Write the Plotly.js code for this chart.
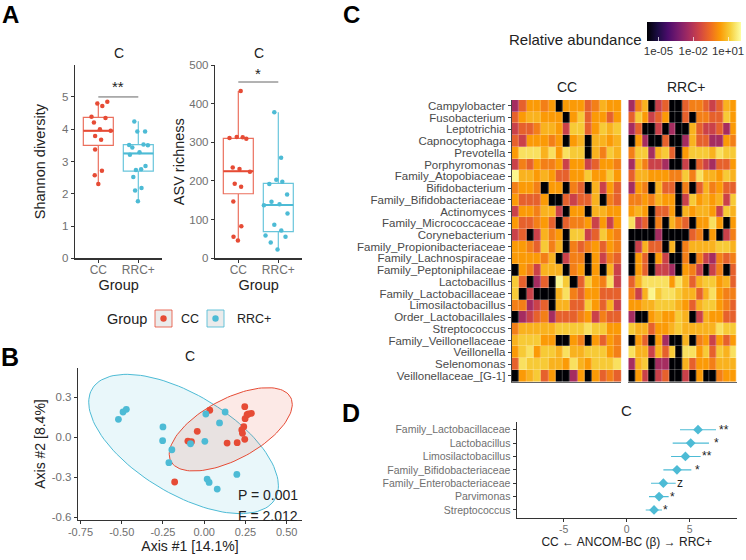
<!DOCTYPE html>
<html>
<head>
<meta charset="utf-8">
<script src="https://cdn.plot.ly/plotly-3.0.1.min.js"></script>
<style>html,body{margin:0;padding:0;background:#fff}</style>
</head>
<body>
<div id="chart" style="width:746px;height:560px"></div>
<script>
// ---------- Panel A data ----------
const groups = ['CC', 'RRC+'];
const groupPositions = [1, 2];
const shannonCCx = [0.975,1.10,1.225,0.83,1.18,0.89,1.04,1.31,0.92,1.07,0.92,1.09,0.91,1.0];
const shannonCCy = [4.80,4.72,4.85,4.39,4.35,4.21,4.0,3.95,3.79,3.67,3.37,2.71,2.57,2.30];
const shannonRRCx = [1.9,1.975,2.17,1.77,1.85,2.13,2.24,1.79,2.03,2.18,1.94,2.07,1.875,2.08,1.92,1.99];
const shannonRRCy = [4.24,3.93,3.93,3.51,3.43,3.53,3.50,3.21,3.29,2.86,2.74,2.76,2.52,2.18,2.10,1.77];
const shannonCCBox = [2.30,3.50,3.95,4.37,4.85];
const shannonRRCBox = [1.78,2.70,3.25,3.52,4.25];
const asvCCx = [1.06,0.78,0.96,1.11,1.2,0.86,1.03,1.29,0.91,1.07,0.875,1.075,0.88,0.99];
const asvCCy = [433,311,314,313,309,235,231,224,193,185,147,83,56,46];
const asvRRCx = [1.9,2.07,1.775,1.95,2.1,2.22,1.83,2.03,1.64,2.23,1.9,2.075,1.68,2.18,1.81,1.98];
const asvRRCy = [378,260,192,203,198,165,146,140,137,116,87,72,59,56,41,23];
const asvCCBox = [46,167,225,310,433];
const asvRRCBox = [23,69,138,194,378];

// ---------- Panel B data ----------
const pcoaCCx = [-0.179,-0.099,-0.077,-0.042,0.034,0.139,0.2,0.246,0.228,0.232,0.24,0.248,0.26,0.268,0.286,0.246];
const pcoaCCy = [-0.335,-0.028,-0.033,0.045,0.203,-0.043,-0.04,-0.015,0.055,0.03,0.08,0.14,0.17,0.175,0.18,0.23];
const pcoaRRCx = [-0.52,-0.492,-0.472,-0.25,-0.252,-0.196,-0.214,-0.083,0.004,0.01,0.093,0.127,0.198,0.018,0.03,0.079];
const pcoaRRCy = [0.135,0.19,0.21,0.078,-0.025,-0.093,-0.19,-0.048,-0.03,0.175,0.108,0.19,-0.278,-0.313,-0.338,-0.388];
const ellipseCC = {cx:0.161, cy:0.06, a:0.373, b:0.3125, rho:0.6};
const ellipseRRC = {cx:-0.125, cy:-0.05, a:0.575, b:0.5225, rho:-0.6};

// ---------- Panel C data ----------
const taxa = ['Campylobacter','Fusobacterium','Leptotrichia','Capnocytophaga','Prevotella','Porphyromonas','Family_Atopobiaceae','Bifidobacterium','Family_Bifidobacteriaceae','Actinomyces','Family_Micrococcaceae','Corynebacterium','Family_Propionibacteriaceae','Family_Lachnospiraceae','Family_Peptoniphilaceae','Lactobacillus','Family_Lactobacillaceae','Limosilactobacillus','Order_Lactobacillales','Streptococcus','Family_Veillonellaceae','Veillonella','Selenomonas','Veillonellaceae_[G-1]'];
// log10 relative abundance for each colour step
const levelLog10 = [-6,-2.4,-1.6,-0.8,-0.2,0.3,0.7,1.1,1.5,1.9];
const ccLevels = [
[1,3,5,5,4,5,0,5,5,5,3,4,6,5,5],
[3,5,6,6,5,5,5,0,5,7,3,5,5,3,5],
[2,3,3,4,6,6,5,2,7,7,3,5,7,6,7],
[3,2,5,5,5,4,5,0,5,6,0,6,6,5,6],
[5,8,8,8,6,8,5,8,7,7,0,6,4,7,6],
[2,4,3,5,4,4,5,2,5,5,2,3,5,5,4],
[9,6,6,5,6,5,3,3,5,5,7,5,5,7,5],
[4,5,5,4,0,5,5,0,4,3,0,6,2,5,3],
[5,3,3,3,5,0,0,3,2,3,3,6,0,4,3],
[2,5,5,4,6,6,2,0,5,5,0,6,6,5,5],
[5,3,3,4,5,3,0,3,4,4,5,2,5,2,5],
[2,3,0,2,6,4,5,0,7,7,2,3,7,5,4],
[5,5,4,3,7,4,6,0,4,3,4,5,3,5,4],
[5,5,5,5,4,6,0,2,4,4,0,5,2,4,3],
[0,5,4,2,6,6,6,0,4,5,0,5,0,6,2],
[7,3,0,1,3,0,9,7,0,3,7,5,4,8,2],
[7,0,2,0,0,0,6,8,4,3,5,5,3,3,3],
[4,4,1,2,3,0,6,6,3,3,7,5,3,6,2],
[0,1,2,3,4,1,3,3,3,4,5,2,4,3,3],
[4,6,6,6,6,6,7,7,7,7,8,7,7,5,5],
[6,7,7,7,5,5,0,0,5,4,0,5,3,5,4],
[5,7,8,5,7,7,6,8,6,6,7,7,7,5,4],
[3,8,7,7,7,6,6,5,8,6,5,7,7,7,8],
[0,5,6,7,3,5,0,0,1,5,0,5,3,4,3]
];
const rrcLevels = [
[1,4,6,0,2,3,0,0,3,4,4,3,2,3,6,5],
[3,7,5,2,3,5,0,0,3,0,4,4,3,3,7,5],
[1,3,0,0,2,0,1,0,0,6,3,2,2,3,1,5],
[0,5,1,0,0,3,0,0,1,6,3,3,1,1,5,4],
[4,7,7,1,6,7,3,0,5,7,7,7,6,8,7,7],
[1,6,4,2,2,1,0,0,2,0,3,2,1,3,3,5],
[3,6,6,5,5,5,4,4,7,4,8,6,6,5,7,6],
[1,5,4,0,6,3,3,0,4,0,3,6,4,5,3,3],
[4,4,5,4,6,5,5,0,2,7,5,6,5,6,2,7],
[5,6,5,0,3,3,5,0,6,5,6,6,5,2,7,6],
[8,2,3,0,4,0,6,4,3,0,5,5,8,5,0,5],
[0,0,0,0,1,0,0,0,0,3,4,0,5,0,2,4],
[0,2,6,3,3,0,6,0,4,6,6,6,6,7,7,6],
[0,5,3,0,5,2,0,0,4,0,4,2,1,4,3,4],
[0,5,3,0,2,2,1,0,5,4,2,0,2,4,0,3],
[3,6,8,8,8,8,5,8,6,3,6,7,7,5,6,3],
[4,2,6,9,7,8,8,7,6,6,3,6,8,5,4,4],
[5,5,6,6,7,7,7,6,5,3,6,7,7,5,4,3],
[1,0,0,5,6,5,5,7,6,0,2,6,5,5,3,3],
[7,6,6,3,5,5,6,7,6,6,6,6,6,8,7,7],
[0,5,3,0,5,1,0,0,6,0,4,5,2,5,3,5],
[8,6,6,2,6,3,7,0,8,8,5,7,3,7,6,8],
[1,6,7,0,1,1,0,0,6,3,5,5,4,6,6,6],
[0,5,2,0,2,3,0,0,2,0,5,0,0,4,5,5]
];
const abundanceTickVals = [-5,-2,1];
const abundanceTickText = ['1e-05','1e-02','1e+01'];

// ---------- Panel D data ----------
const ancomTaxa = ['Family_Lactobacillaceae','Lactobacillus','Limosilactobacillus','Family_Bifidobacteriaceae','Family_Enterobacteriaceae','Parvimonas','Streptococcus'];
const ancomBeta = [5.66,5.08,4.66,3.99,2.91,2.57,2.17];
const ancomLow = [4.23,3.65,3.52,2.91,1.93,1.77,1.51];
const ancomHigh = [7.09,6.53,5.87,5.13,3.89,3.33,2.80];
const ancomMarks = ['**','*','**','*','z','*','*'];
const ancomMarkX = [7.7,7.1,6.4,5.6,4.2,3.6,3.05];

// ---------- Styling ----------
const RED = '#E64B35', BLUE = '#4DBBD5';
const REDL = 'rgba(230,75,53,0.8)', BLUEL = 'rgba(77,187,213,0.85)';
const FONT = '"Liberation Sans", Arial, sans-serif';
const TICK = '#6f6f6f', AXIS = '#333333', INK = '#222222';
const W = 746, H = 560;
const xd = (a, b) => [a / W, b / W];
const yd = (top, bottom) => [1 - bottom / H, 1 - top / H];
const px = x => x / W;
const py = y => 1 - y / H;

const inferno = [[0,'#000004'],[1/9,'#1B0C42'],[2/9,'#4B0C6B'],[3/9,'#781C6D'],[4/9,'#A52C60'],[5/9,'#CF4446'],[6/9,'#ED6925'],[7/9,'#FB9A06'],[8/9,'#F7D03C'],[1,'#FCFFA4']];

function ellipseTrace(e, line, fill, xa, ya) {
  const xs = [], ys = [];
  for (let i = 0; i <= 120; i++) {
    const t = 2 * Math.PI * i / 120;
    xs.push(e.cx + e.a * Math.cos(t));
    ys.push(e.cy + e.b * (e.rho * Math.cos(t) + Math.sqrt(1 - e.rho * e.rho) * Math.sin(t)));
  }
  return {type:'scatter', mode:'lines', x:xs, y:ys, fill:'toself', fillcolor:fill,
    line:{color:line, width:1}, hoverinfo:'skip', xaxis:xa, yaxis:ya};
}
function boxTrace(pos, s, line, xa, ya) {
  return {type:'box', x:[pos], lowerfence:[s[0]], q1:[s[1]], median:[s[2]], q3:[s[3]], upperfence:[s[4]],
    width:0.75, whiskerwidth:0, boxpoints:false, fillcolor:'rgba(255,255,255,0)',
    line:{color:line, width:1.2}, xaxis:xa, yaxis:ya};
}
function medianTrace(pos, s, col, xa, ya) {
  return {type:'scatter', mode:'lines', x:[pos-0.375,pos+0.375], y:[s[2],s[2]],
    line:{color:col, width:2}, xaxis:xa, yaxis:ya};
}
function pts(x, y, col, size, xa, ya) {
  return {type:'scatter', mode:'markers', x:x, y:y, marker:{color:col, size:size}, xaxis:xa, yaxis:ya};
}
function sigLine(level, xa, ya) {
  return {type:'scatter', mode:'lines', x:groupPositions, y:[level,level], line:{color:'#555', width:0.9}, xaxis:xa, yaxis:ya};
}
function levelsToLog(m) { return m.map(r => r.map(v => levelLog10[v])); }

const data = [
  boxTrace(1, shannonCCBox, REDL, 'x', 'y'),
  boxTrace(2, shannonRRCBox, BLUEL, 'x', 'y'),
  medianTrace(1, shannonCCBox, RED, 'x', 'y'),
  medianTrace(2, shannonRRCBox, BLUE, 'x', 'y'),
  pts(shannonCCx, shannonCCy, RED, 4.5, 'x', 'y'),
  pts(shannonRRCx, shannonRRCy, BLUE, 4.5, 'x', 'y'),
  sigLine(5.0, 'x', 'y'),
  boxTrace(1, asvCCBox, REDL, 'x2', 'y2'),
  boxTrace(2, asvRRCBox, BLUEL, 'x2', 'y2'),
  medianTrace(1, asvCCBox, RED, 'x2', 'y2'),
  medianTrace(2, asvRRCBox, BLUE, 'x2', 'y2'),
  pts(asvCCx, asvCCy, RED, 4.5, 'x2', 'y2'),
  pts(asvRRCx, asvRRCy, BLUE, 4.5, 'x2', 'y2'),
  sigLine(456, 'x2', 'y2'),
  ellipseTrace(ellipseRRC, BLUE, 'rgba(77,187,213,0.12)', 'x3', 'y3'),
  ellipseTrace(ellipseCC, RED, 'rgba(230,75,53,0.12)', 'x3', 'y3'),
  pts(pcoaCCx, pcoaCCy, RED, 6.8, 'x3', 'y3'),
  pts(pcoaRRCx, pcoaRRCy, BLUE, 6.8, 'x3', 'y3'),
  {type:'heatmap', z:levelsToLog(ccLevels), y:taxa, zmin:-6, zmax:2.1, colorscale:inferno, xgap:0.25, ygap:0.25,
   showscale:true, xaxis:'x4', yaxis:'y4',
   colorbar:{orientation:'h', thicknessmode:'pixels', thickness:19, lenmode:'pixels', len:93.7,
     x:(647+740.7)/2/W, xanchor:'center', y:py(22), yanchor:'top', xpad:0, ypad:0, outlinewidth:0, borderwidth:0,
     tickmode:'array', tickvals:abundanceTickVals, ticktext:abundanceTickText, ticks:'inside', ticklen:4,
     tickcolor:'rgba(255,255,255,0.7)', tickfont:{family:FONT, size:11.5, color:'#333'}}},
  {type:'heatmap', z:levelsToLog(rrcLevels), y:taxa, zmin:-6, zmax:2.1, colorscale:inferno, xgap:0.25, ygap:0.25,
   showscale:false, xaxis:'x5', yaxis:'y5'},
  {type:'scatter', mode:'lines', x:[0,0], y:[-0.6,6.6], line:{color:'#555', width:1.6, dash:'3px,3px'}, xaxis:'x6', yaxis:'y6'},
  {type:'scatter', mode:'markers', x:ancomBeta, y:ancomTaxa,
   error_x:{type:'data', symmetric:false, array:ancomHigh.map((h,i)=>h-ancomBeta[i]), arrayminus:ancomBeta.map((b,i)=>b-ancomLow[i]), color:BLUE, thickness:1.2, width:0},
   marker:{symbol:'diamond', color:BLUE, size:7.5}, xaxis:'x6', yaxis:'y6'}
];

const tickF = {family:FONT, size:11.5, color:TICK};
const titleF = {family:FONT, size:14.5, color:INK};
const base = {showline:true, linecolor:AXIS, linewidth:1.2, ticks:'outside', ticklen:3, tickcolor:AXIS, tickwidth:1, showgrid:false, zeroline:false, tickfont:tickF};
const groupX = Object.assign({}, base, {range:[0.417,2.6], tickmode:'array', tickvals:groupPositions, ticktext:groups, ticklabelstandoff:-3, tickfont:{family:FONT,size:12,color:TICK}, title:{text:'Group', font:titleF, standoff:1}});

const layout = {
  width:W, height:H, margin:{l:0,r:0,t:0,b:0,pad:0}, paper_bgcolor:'#fff', plot_bgcolor:'rgba(0,0,0,0)', showlegend:false,
  font:{family:FONT},
  xaxis:Object.assign({}, groupX, {domain:xd(75,162.3), anchor:'y'}),
  yaxis:Object.assign({}, base, {domain:yd(65,258.3), anchor:'x', range:[0,5.99], tickmode:'array', tickvals:[0,1,2,3,4,5], title:{text:'Shannon diversity', font:titleF, standoff:13}}),
  xaxis2:Object.assign({}, groupX, {domain:xd(215,302.3), anchor:'y2'}),
  yaxis2:Object.assign({}, base, {domain:yd(65,258.3), anchor:'x2', range:[0,500], tickmode:'array', tickvals:[0,100,200,300,400,500], title:{text:'ASV richness', font:titleF, standoff:1}}),
  xaxis3:Object.assign({}, base, {domain:xd(78,302), anchor:'y3', range:[-0.765,0.593], tickmode:'array', tickvals:[-0.75,-0.5,-0.25,0,0.25,0.5], ticktext:['-0.75','-0.50','-0.25','0.00','0.25','0.50'], ticklabelstandoff:-1, tickfont:{family:FONT,size:11,color:TICK}, title:{text:'Axis #1 [14.1%]', font:{family:FONT,size:14,color:INK}, standoff:1}}),
  yaxis3:Object.assign({}, base, {domain:yd(368,520), anchor:'x3', range:[-0.62,0.52], tickmode:'array', tickvals:[-0.6,-0.3,0,0.3], ticktext:['-0.6','-0.3','0.0','0.3'], title:{text:'Axis #2 [8.4%]', font:{family:FONT,size:14,color:INK}, standoff:2}}),
  xaxis4:{domain:xd(511.7,621.3), anchor:'y4', range:[-0.5,14.5], showticklabels:false, ticks:'', showgrid:false, zeroline:false, showline:true, linecolor:'#666', linewidth:1},
  yaxis4:{domain:yd(100,381.7), anchor:'x4', type:'category', categoryorder:'array', categoryarray:taxa, range:[23.5,-0.5], showgrid:false, zeroline:false, showline:true, linecolor:'#444', linewidth:1, ticks:'outside', ticklen:3, tickcolor:'#444', tickfont:{family:FONT,size:11.5,color:'#4a4a4a'}, tickmode:'array', tickvals:taxa, ticktext:taxa, dtick:1},
  xaxis5:{domain:xd(628.3,736.7), anchor:'y5', range:[-0.5,15.5], showticklabels:false, ticks:'', showgrid:false, zeroline:false, showline:true, linecolor:'#666', linewidth:1},
  yaxis5:{domain:yd(100,381.7), anchor:'x5', type:'category', categoryorder:'array', categoryarray:taxa, range:[23.5,-0.5], showticklabels:false, ticks:'', showgrid:false, zeroline:false, showline:false},
  xaxis6:Object.assign({}, base, {domain:xd(516.7,736.7), anchor:'y6', range:[-8.73,8.73], tickmode:'array', tickvals:[-5,0,5], ticktext:['-5','0','5'], ticklabelstandoff:-2, tickfont:{family:FONT,size:10.5,color:TICK}, title:{text:'CC \u2190 ANCOM-BC (\u03B2) \u2192 RRC+', font:{family:FONT,size:12,color:INK}, standoff:1}}),
  yaxis6:Object.assign({}, base, {domain:yd(421.7,518), anchor:'x6', type:'category', categoryorder:'array', categoryarray:ancomTaxa, range:[6.6,-0.6], tickfont:{family:FONT,size:10.5,color:TICK}}),
  shapes:[
    {type:'rect', xref:'paper', yref:'paper', x0:px(155), x1:px(172), y0:py(327), y1:py(310), fillcolor:'#ebebeb', line:{color:REDL, width:1}},
    {type:'rect', xref:'paper', yref:'paper', x0:px(207), x1:px(224), y0:py(327), y1:py(310), fillcolor:'#ebebeb', line:{color:BLUEL, width:1}},
    {type:'circle', xref:'paper', yref:'paper', x0:px(160.3), x1:px(166.7), y0:py(321.7), y1:py(315.3), fillcolor:RED, line:{width:0}},
    {type:'circle', xref:'paper', yref:'paper', x0:px(212.3), x1:px(218.7), y0:py(321.7), y1:py(315.3), fillcolor:BLUE, line:{width:0}}
  ],
  annotations:[]
};

function note(text, x, y, size, opts) {
  layout.annotations.push(Object.assign({text:text, x:px(x), y:py(y), xref:'paper', yref:'paper', showarrow:false,
    xanchor:'center', yanchor:'middle', borderpad:0, font:{family:FONT, size:size, color:INK}}, opts || {}));
}
// panel letters
note('<b>A</b>', 10, 14.5, 24, {font:{family:FONT,size:24,color:'#000'}});
note('<b>B</b>', 10, 357, 25, {font:{family:FONT,size:25,color:'#000'}});
note('<b>C</b>', 351, 14.5, 24, {font:{family:FONT,size:24,color:'#000'}});
note('<b>D</b>', 351, 413, 25, {font:{family:FONT,size:25,color:'#000'}});
// sub-plot titles
note('C', 118.5, 53, 14);
note('C', 259, 53, 14);
note('C', 190, 356, 14);
note('C', 626.7, 410, 15);
note('CC', 567, 87, 14);
note('RRC+', 686, 87, 14);
// significance stars in data space
layout.annotations.push({text:'**', x:1.5, y:5.31, xref:'x', yref:'y', showarrow:false, font:{family:FONT,size:15,color:INK}});
layout.annotations.push({text:'*', x:1.5, y:479, xref:'x2', yref:'y2', showarrow:false, font:{family:FONT,size:15,color:INK}});
// PERMANOVA text
layout.annotations.push({text:'P = 0.001', x:0.19, y:-0.43, xref:'x3', yref:'y3', xanchor:'left', showarrow:false, font:{family:FONT,size:14,color:INK}});
layout.annotations.push({text:'F = 2.012', x:0.19, y:-0.59, xref:'x3', yref:'y3', xanchor:'left', showarrow:false, font:{family:FONT,size:14,color:INK}});
// legend + colour-bar labels
note('Group', 127, 319, 14.5);
note('CC', 189.5, 319, 12.5);
note('RRC+', 254, 319, 12.5);
note('Relative abundance', 643, 40, 15, {xanchor:'right'});
// ANCOM-BC significance marks
ancomMarks.forEach((m,i)=>layout.annotations.push({text:m, x:ancomMarkX[i], y:ancomTaxa[i], xref:'x6', yref:'y6', showarrow:false,
  font:{family:FONT, size:12, color:INK}}));

Plotly.newPlot('chart', data, layout, {displayModeBar:false, staticPlot:true});
</script>
</body>
</html>
